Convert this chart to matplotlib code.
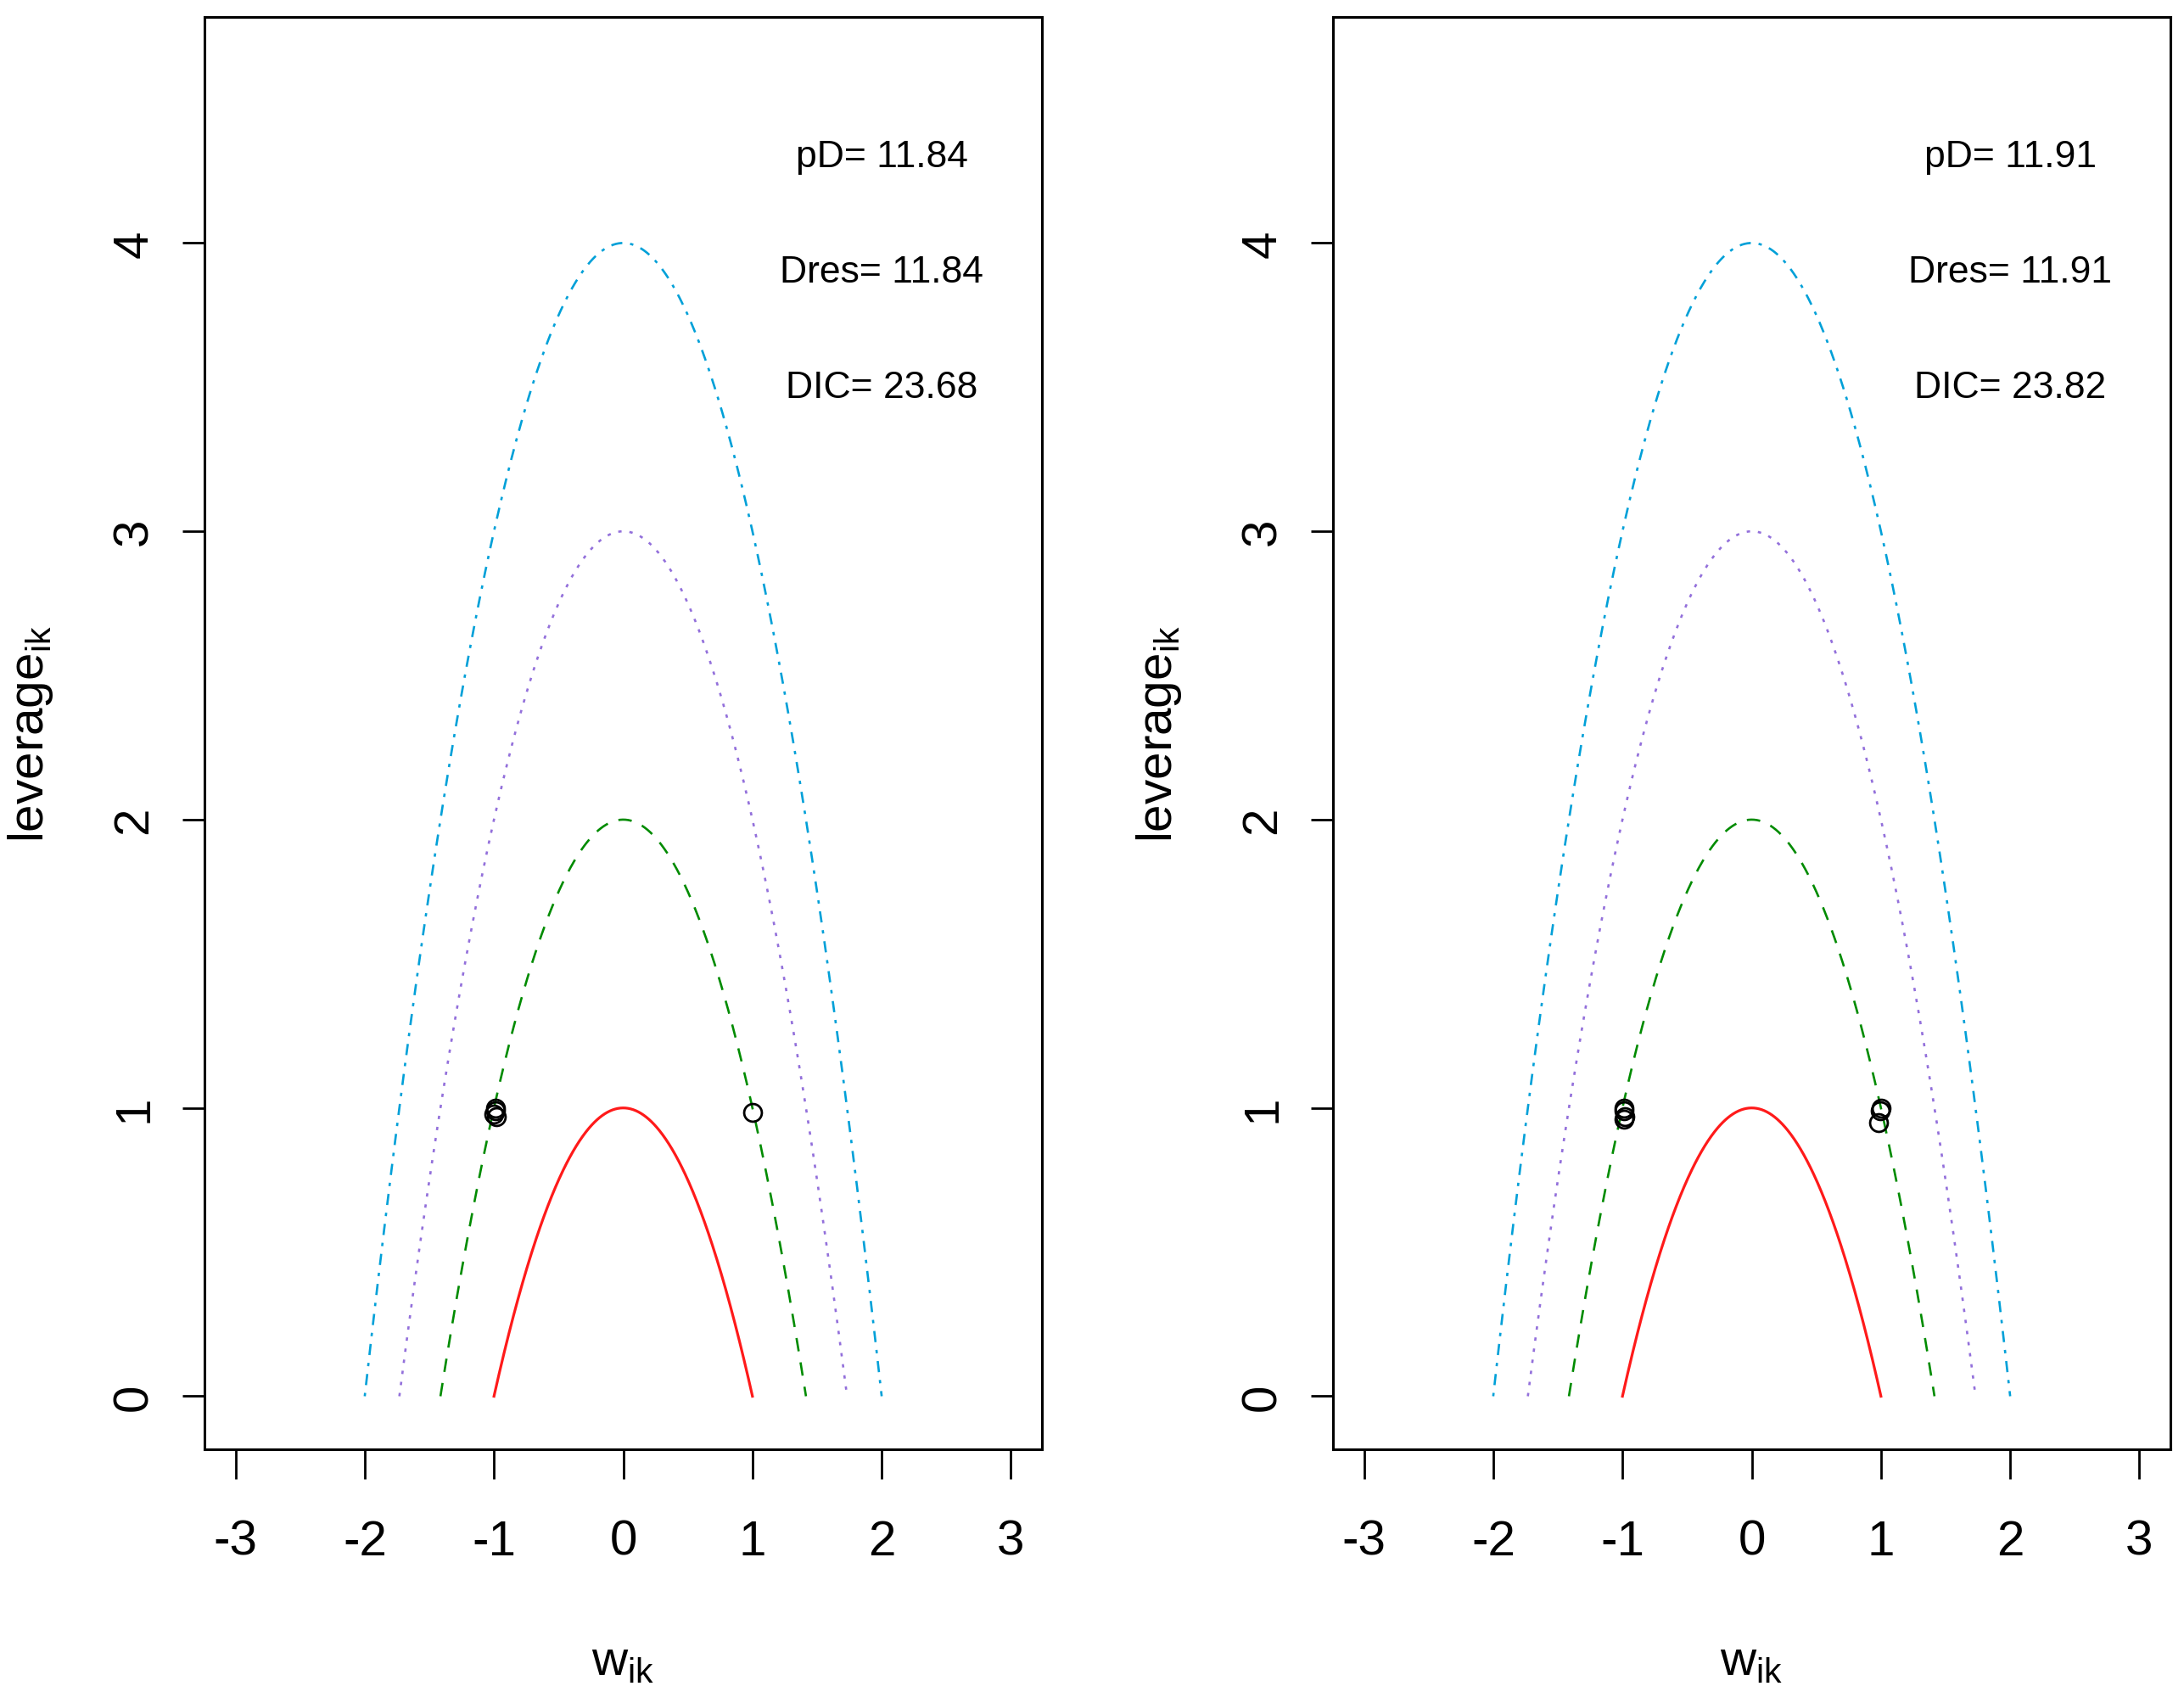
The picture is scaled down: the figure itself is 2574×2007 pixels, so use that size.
import numpy as np
import matplotlib
matplotlib.use("Agg")
import matplotlib.pyplot as plt

FONT = ['Liberation Sans Narrow', 'Liberation Sans', 'DejaVu Sans']
plt.rcParams['font.family'] = FONT
plt.rcParams['mathtext.fontset'] = 'custom'
plt.rcParams['mathtext.rm'] = 'Liberation Sans'
plt.rcParams['mathtext.it'] = 'Liberation Sans'

# parabola levels: leverage = level - w^2
levels = [1, 2, 3, 4]
level_colors = ['#FF1A1A', '#008B00', '#9370DB', '#00A0D8']
level_dashes = [None, (6, 5), (1.5, 3.5), (1.5, 3.5, 5, 3.5)]

# observed points (w_ik, leverage_ik) per panel
left_w = [-0.99, -0.98, -0.99, -1.0, 1.0]
left_lev = [0.99, 0.97, 1.0, 0.98, 0.985]
right_w = [-0.99, -0.98, -0.985, -0.99, 0.995, 1.0, 0.98]
right_lev = [1.0, 0.97, 0.99, 0.96, 0.99, 1.0, 0.95]

left_stats = {'pD': 11.84, 'Dres': 11.84, 'DIC': 23.68}
right_stats = {'pD': 11.91, 'Dres': 11.91, 'DIC': 23.82}
stat_y = [4.3, 3.9, 3.5]

xticks = [-3, -2, -1, 0, 1, 2, 3]
yticks = [0, 1, 2, 3, 4]

fig = plt.figure(figsize=(25.74, 20.08), dpi=100)
W, H = 2574, 2008
boxes = [(241, 1228), (1571, 2558)]
top_px, bot_px = 21, 1709


def draw_panel(ax, pw, plev, stats):
    for lev, col, dsh in zip(levels, level_colors, level_dashes):
        xs = np.linspace(-np.sqrt(lev), np.sqrt(lev), 400)
        line, = ax.plot(xs, lev - xs ** 2, color=col, lw=2.3 if dsh is None else 1.9)
        if dsh is not None:
            line.set_dashes(dsh)
    ax.plot(pw, plev, 'o', mfc='none', mec='black', ms=15, mew=2.0)
    for (k, v), y in zip(stats.items(), stat_y):
        ax.text(2.0, y, f"{k}= {v:.2f}", ha='center', va='center', fontsize=32)
    ax.set_xlim(-3.24, 3.24)
    ax.set_ylim(-0.184, 4.784)
    ax.set_xticks(xticks)
    ax.set_xticklabels([str(t) for t in xticks])
    ax.set_yticks(yticks)
    ax.set_yticklabels([str(t) for t in yticks], rotation=90, va='center')
    ax.tick_params(axis='x', length=25, width=2, pad=34, labelsize=42)
    ax.tick_params(axis='y', length=19, width=2, pad=21, labelsize=42)
    for sp in ax.spines.values():
        sp.set_linewidth(2.2)
    ax.set_xlabel(r'w$_{\mathrm{ik}}$', fontsize=42)
    ax.xaxis.set_label_coords(0.5, -0.132)
    ax.set_ylabel(r'leverage$_{\mathrm{ik}}$', fontsize=42)
    ax.yaxis.set_label_coords(-0.178, 0.5)


for (x0, x1), (pw, plev, stats) in zip(boxes, [(left_w, left_lev, left_stats),
                                                (right_w, right_lev, right_stats)]):
    ax = fig.add_axes([x0 / W, 1 - bot_px / H, (x1 - x0) / W, (bot_px - top_px) / H])
    draw_panel(ax, pw, plev, stats)

fig.savefig('out.png', dpi=100)
